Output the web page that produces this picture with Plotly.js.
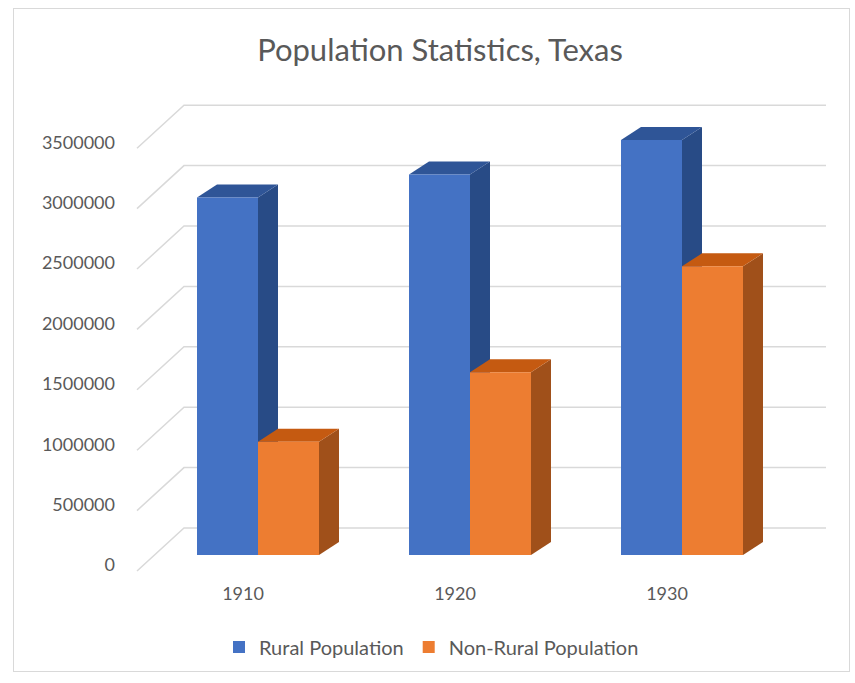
<!DOCTYPE html>
<html>
<head>
<meta charset="utf-8">
<script src="https://cdn.plot.ly/plotly-3.0.1.min.js"></script>
<style>
  html, body { margin: 0; padding: 0; background: #ffffff; }
  #wrap { position: relative; width: 855px; height: 683px; }
  #chart { width: 855px; height: 683px; }
  #frame { position: absolute; left: 13px; top: 8px; width: 837px; height: 664px;
           border: 1.5px solid #d9d9d9; pointer-events: none; box-sizing: border-box; }
</style>
</head>
<body>
<div id="wrap">
  <div id="chart"></div>
  <div id="frame"></div>
</div>
<script>
// ---- data ----
const years = ['1910', '1920', '1930'];
const ruralPopulation = [2958438, 3150539, 3435367];
const nonRuralPopulation = [938104, 1512689, 2389348];
const yTickValues = [0, 500000, 1000000, 1500000, 2000000, 2500000, 3000000, 3500000];
const seriesNames = ['Rural Population', 'Non-Rural Population'];

// ---- style / geometry (pixels) ----
const W = 855, H = 683;
const plotL = 122, plotR = 828, plotT = 90, plotB = 572;
const zeroPx = 555;                 // pixel of value 0 on the bar plane
const pxPerUnit = 120.8 / 1e6;      // pixels per person
const catPx = 212, cat0Px = 258;    // category spacing and first group centre
const barPx = 61;                   // width of one bar front
const depthXPx = 20, depthYPx = 13; // 3D depth offset
const labelShiftPx = 10;            // tick labels sit below the bar plane
const wallShiftPx = 27;             // back wall sits above the bar plane

const frontColors = ['#4472C4', '#ED7D31'];
const topColors   = ['#2F5597', '#C55A11'];
const sideColors  = ['#284B86', '#A0501A'];
const textColor = '#595959';
const gridColor = '#d9d9d9';
const fontFamily = 'Lato, "Open Sans", sans-serif';

const idx = years.map((_, i) => i);
const yRange = [-(plotB - zeroPx) / pxPerUnit, (zeroPx - plotT) / pxPerUnit];
const xRange = [(plotL - cat0Px) / catPx, (plotR - cat0Px) / catPx];
const labelShift = labelShiftPx / pxPerUnit;
const wallShift = wallShiftPx / pxPerUnit;
const barW = barPx / catPx;
const dx = depthXPx / catPx, dy = depthYPx / pxPerUnit;

const shapes = [];
// back wall gridlines with slanted left returns
const xFront = (137 - cat0Px) / catPx, xCorner = (184 - cat0Px) / catPx, xEnd = (826 - cat0Px) / catPx;
yTickValues.forEach(t => {
  const yF = t - labelShift - 6 / pxPerUnit;
  const yB = t + wallShift;
  shapes.push({
    type: 'path', xref: 'x', yref: 'y', layer: 'below',
    path: `M${xFront},${yF} L${xCorner},${yB} L${xEnd},${yB}`,
    line: { color: gridColor, width: 1.5 }
  });
});
// 3D side and top faces of each bar
const series = [ruralPopulation, nonRuralPopulation];
idx.forEach(i => {
  series.forEach((vals, k) => {
    const v = vals[i];
    const x0 = i - barW + k * barW, x1 = x0 + barW;
    shapes.push({
      type: 'path', xref: 'x', yref: 'y', layer: 'below',
      path: `M${x1},0 L${x1},${v} L${x1 + dx},${v + dy} L${x1 + dx},${dy} Z`,
      fillcolor: sideColors[k], line: { width: 0 }
    });
    shapes.push({
      type: 'path', xref: 'x', yref: 'y', layer: 'below',
      path: `M${x0},${v} L${x1},${v} L${x1 + dx},${v + dy} L${x0 + dx},${v + dy} Z`,
      fillcolor: topColors[k], line: { width: 0 }
    });
  });
});

const traces = series.map((vals, k) => ({
  type: 'bar', x: idx, y: vals, name: seriesNames[k],
  marker: { color: frontColors[k], line: { width: 0 } },
  hoverinfo: 'name+y'
}));

const layout = {
  width: W, height: H,
  margin: { l: plotL, r: W - plotR, t: plotT, b: H - plotB, pad: 0 },
  paper_bgcolor: '#ffffff', plot_bgcolor: 'rgba(0,0,0,0)',
  font: { family: fontFamily, color: textColor, size: 18 },
  title: {
    text: 'Population Statistics, Texas',
    font: { family: fontFamily, size: 31, color: textColor },
    x: 440 / W, xanchor: 'center', xref: 'container',
    y: 1 - 50 / H, yanchor: 'middle', yref: 'container'
  },
  barmode: 'group', bargap: 1 - 2 * barW, bargroupgap: 0,
  showlegend: true,
  legend: {
    orientation: 'h', x: (219 - plotL) / (plotR - plotL), xanchor: 'left',
    y: (plotB - 647) / (plotB - plotT), yanchor: 'middle',
    font: { family: fontFamily, size: 20, color: textColor },
    traceorder: 'normal'
  },
  xaxis: {
    range: xRange, showgrid: false, zeroline: false, showline: false, ticks: '',
    tickmode: 'array', tickvals: idx.map(i => i - 15 / catPx), ticktext: years,
    tickfont: { size: 18, color: textColor }, ticklabelstandoff: 9, fixedrange: true
  },
  // tick labels sit on the front plane, slightly below the bar plane
  yaxis: {
    range: yRange, showgrid: false, zeroline: false, showline: false, ticks: '',
    tickmode: 'array', tickvals: yTickValues.map(t => t - labelShift),
    ticktext: yTickValues.map(String),
    tickfont: { size: 18, color: textColor }, ticklabelstandoff: 6, fixedrange: true
  },
  shapes: shapes
};

Plotly.newPlot('chart', traces, layout, { displayModeBar: false, staticPlot: true });
</script>
</body>
</html>
